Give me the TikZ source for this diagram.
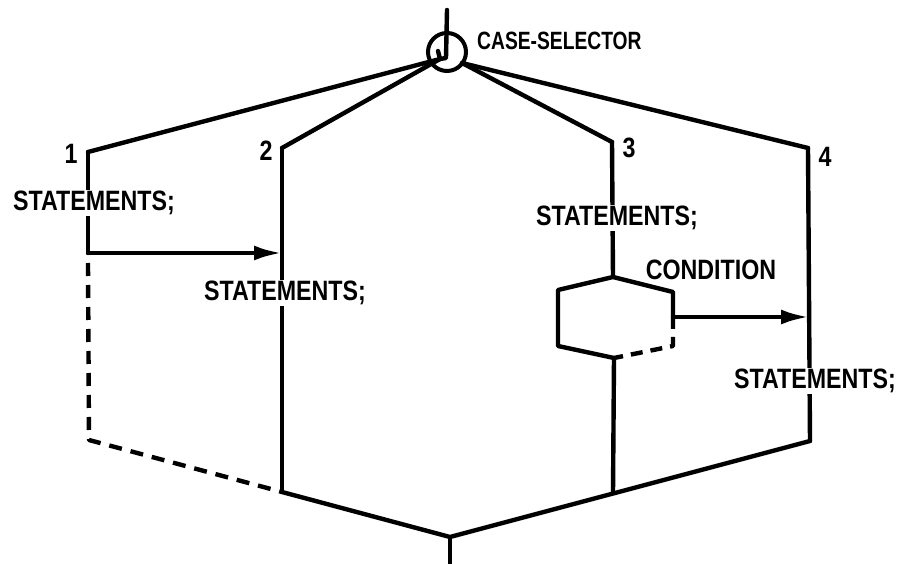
\documentclass[tikz,border=0pt]{standalone}
\usepackage{fontspec}
\setmainfont{Liberation Sans}[FakeStretch=0.83]
\newfontfamily\csfont{Liberation Sans}[FakeStretch=0.77]
\usetikzlibrary{arrows.meta}
\tikzset{
  wire/.style={line width=4.4pt, line join=round, line cap=round},
  dwire/.style={wire, line cap=butt, dash pattern=on 13pt off 9pt},
  arr/.style={wire, -{Latex[length=28pt,width=15pt]}},
  lbl/.style={font=\fontsize{28}{28}\selectfont\bfseries, inner sep=1pt, fill=white},
  num/.style={font=\fontsize{28}{28}\selectfont\bfseries, inner sep=0pt},
}
\begin{document}
\begin{tikzpicture}[x=1pt,y=-1pt]
\useasboundingbox (0,0) rectangle (898,564);
% selector
\node[draw, circle, line width=4pt, minimum size=38pt, inner sep=0pt] (sel) at (447,52) {};
\coordinate (in) at (447,10);
\coordinate (hl) at (440,59);
\coordinate (hr) at (462,63);
\draw[wire] (in) -- (446,58) -- (hl) -- (438,51);
\node[font=\csfont\fontsize{25}{25}\selectfont\bfseries, anchor=west, inner sep=0pt] (cs) at (477,41) {CASE-SELECTOR};
% column corners
\coordinate (c1) at (88,152);
\coordinate (c2) at (282,148);
\coordinate (c3) at (612,142);
\coordinate (c4) at (808,148);
\draw[wire] (hl) -- (c1);
\draw[wire] (hl) -- (c2);
\draw[wire] (hr) -- (c3);
\draw[wire] (hr) -- (c4);
% numbers
\node[num] (n1) at (71,154) {1};
\node[num] (n2) at (266,151) {2};
\node[num] (n3) at (629,148) {3};
\node[num] (n4) at (825,157) {4};
% bottom
\coordinate (b1) at (89,440);
\coordinate (b2) at (282,492);
\coordinate (b3) at (613,493);
\coordinate (b4) at (810,441);
\coordinate (bv) at (450,537);
\coordinate (out) at (450,566);
% column 1
\coordinate (a1) at (88,253);
\draw[wire] (c1) -- (a1);
\draw[dwire] (88,263) -- (b1) -- (b2);
\node[lbl] (s1) at (94,203) {STATEMENTS;};
% column 2
\coordinate (a2) at (282,253);
\draw[wire] (c2) -- (b2);
\node[lbl] (s2) at (285,293) {STATEMENTS;};
\draw[arr] (a1) -- (a2);
% column 3
\coordinate (ht) at (613,277);
\coordinate (hul) at (558,290);
\coordinate (hll) at (558,346);
\coordinate (hb) at (614,358);
\coordinate (hlr) at (673,346);
\coordinate (hur) at (673,292);
\coordinate (hx) at (673,317);
\draw[wire] (c3) -- (ht);
\draw[wire] (hx) -- (hur) -- (ht) -- (hul) -- (hll) -- (hb);
\draw[dwire, dash pattern=on 12pt off 8pt] (hx) -- (hlr) -- (hb);
\draw[wire] (hb) -- (b3);
\node[lbl] (s3) at (617,218) {STATEMENTS;};
\node[num] (cond) at (711,270) {CONDITION};
% column 4
\coordinate (a4) at (809,317);
\draw[wire] (c4) -- (b4);
\node[lbl] (s4) at (815,381) {STATEMENTS;};
\draw[arr] (hx) -- (a4);
% merge
\draw[wire] (b2) -- (bv) -- (b4);
\draw[wire, line cap=butt] (bv) -- (out);
\end{tikzpicture}
\end{document}
